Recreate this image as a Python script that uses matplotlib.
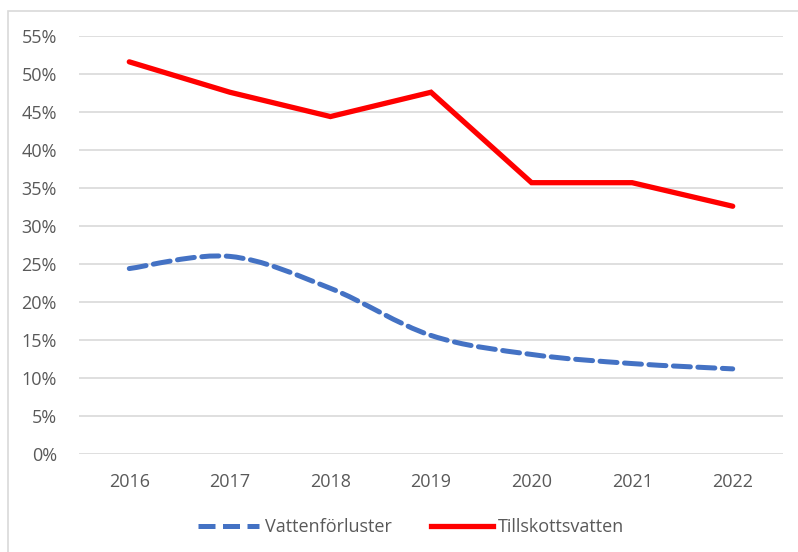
import numpy as np
import matplotlib.pyplot as plt
from matplotlib.path import Path
from matplotlib.patches import PathPatch, Rectangle
from matplotlib.lines import Line2D
from matplotlib.ticker import PercentFormatter

years = ['2016', '2017', '2018', '2019', '2020', '2021', '2022']
vattenforluster = [24.4, 26.0, 21.8, 15.6, 13.1, 11.9, 11.2]
tillskottsvatten = [51.6, 47.6, 44.4, 47.6, 35.7, 35.7, 32.6]

plt.rcParams['font.family'] = ['Open Sans', 'DejaVu Sans']

fig = plt.figure(figsize=(7.98, 5.52), dpi=100)
ax = fig.add_axes([79 / 798, 1 - 454 / 552, (783 - 79) / 798, (454 - 36) / 552])

x = np.arange(len(years))


def smooth_path(xs, ys):
    # Excel-style smoothed line: Catmull-Rom converted to cubic Bezier
    pts = np.column_stack([xs, ys]).astype(float)
    verts = [pts[0]]
    codes = [Path.MOVETO]
    n = len(pts)
    for i in range(n - 1):
        p0 = pts[max(i - 1, 0)]
        p1 = pts[i]
        p2 = pts[i + 1]
        p3 = pts[min(i + 2, n - 1)]
        c1 = p1 + (p2 - p0) / 6.0
        c2 = p2 - (p3 - p1) / 6.0
        verts += [c1, c2, p2]
        codes += [Path.CURVE4] * 3
    return Path(verts, codes)


blue = '#4472c4'
red = '#ff0000'
dash = (0, (3.4, 1.5))

patch = PathPatch(smooth_path(x, vattenforluster), facecolor='none', edgecolor=blue,
                  lw=3.6, linestyle=dash, capstyle='round', zorder=3)
ax.add_patch(patch)
ax.plot(x, tillskottsvatten, color=red, lw=3.8, solid_capstyle='round',
        solid_joinstyle='miter', zorder=4)

ax.set_xlim(-0.5, len(years) - 0.5)
ax.set_ylim(0, 55)
ax.set_yticks(np.arange(0, 56, 5))
ax.yaxis.set_major_formatter(PercentFormatter(decimals=0))
ax.set_xticks(x)
ax.set_xticklabels(years)
ax.grid(axis='y', color='#d9d9d9', lw=1.2)
ax.set_axisbelow(True)
for s in ax.spines.values():
    s.set_visible(False)
ax.tick_params(length=0, labelsize=13, colors='#595959')
ax.tick_params(axis='y', pad=16)
ax.tick_params(axis='x', pad=14)

handles = [Line2D([], [], color=blue, lw=3.6, linestyle=dash),
           Line2D([], [], color=red, lw=3.8)]
fig.legend(handles, ['Vattenförluster', 'Tillskottsvatten'], loc='center',
           bbox_to_anchor=(0.5 + 12 / 798, 1 - 527 / 552), ncol=2, frameon=False,
           fontsize=13, labelcolor='#595959', handlelength=3.4,
           handletextpad=0.3, columnspacing=2.2)

fig.patches.append(Rectangle((8 / 798, -0.01), 1.0, 1 - 11 / 552 + 0.01,
                             transform=fig.transFigure, fill=False,
                             edgecolor='#d9d9d9', lw=1.2))

fig.savefig('out.png', dpi=100)
